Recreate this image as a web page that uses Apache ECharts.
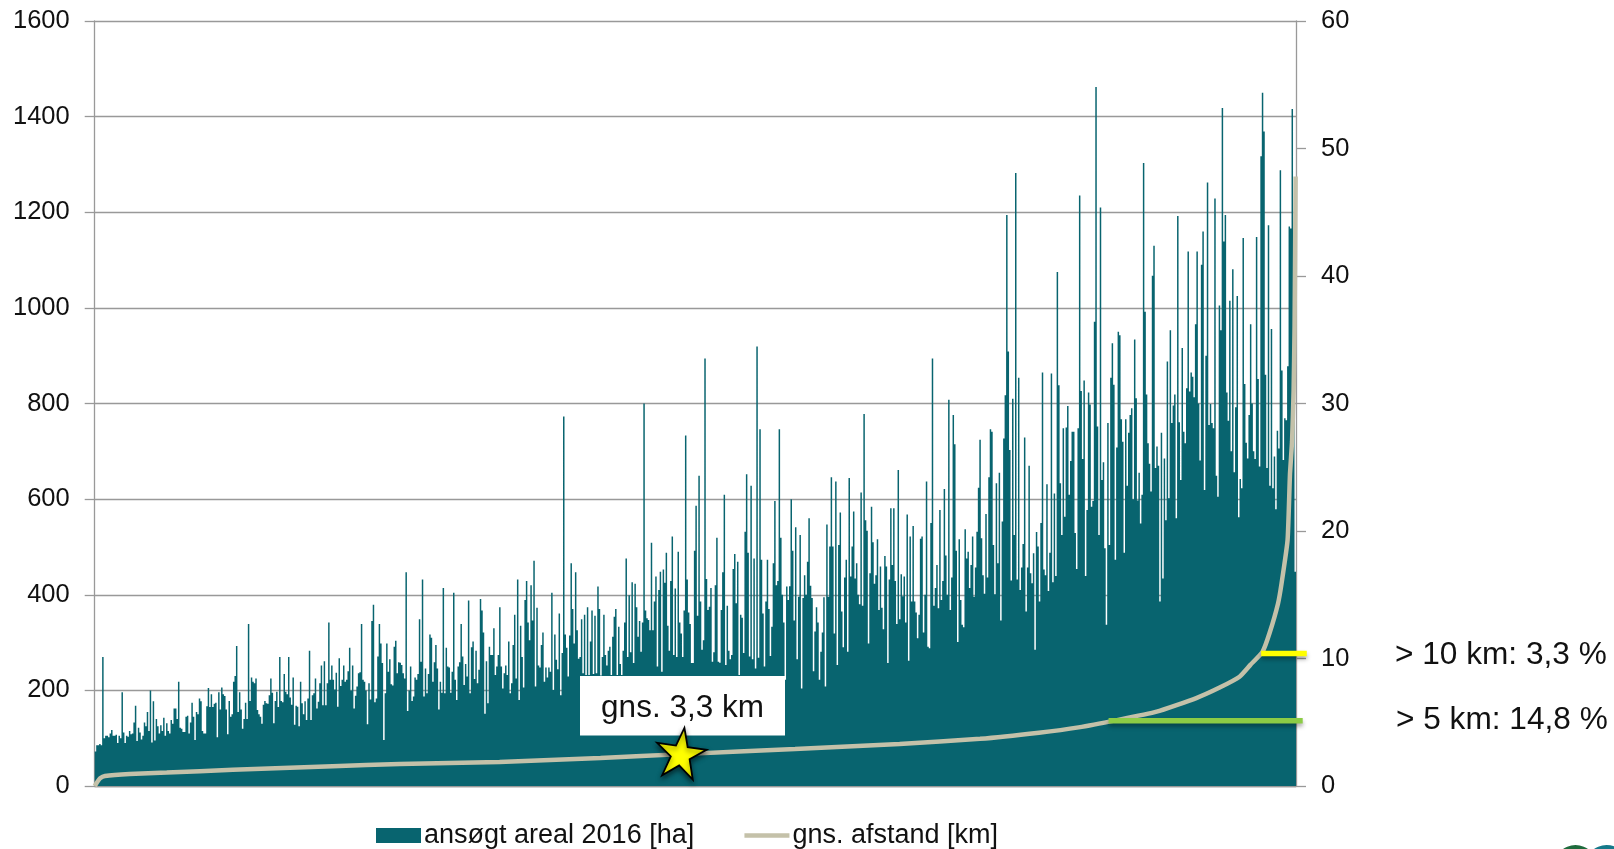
<!DOCTYPE html>
<html><head><meta charset="utf-8">
<style>html,body{margin:0;padding:0;background:#fff}#c{width:1614px;height:849px}</style>
<script src="https://cdn.jsdelivr.net/npm/echarts@6/dist/echarts.min.js"></script>
</head><body><div id="c"></div>
<script>
const leftTicks=[0,200,400,600,800,1000,1200,1400,1600];
const rightTicks=[0,10,20,30,40,50,60];
const seriesAreaName='ansøgt areal 2016 [ha]';
const seriesDistName='gns. afstand [km]';
const areaA=[72,85,85,88,85,270,100,105,105,102,110,117,105,105,107,90,105,100,196,112,90,105,103,115,108,110,133,168,94,122,112,97,105,133,125,155,115,200,91,177,95,140,125,110,127,115,143,105,131,115,110,138,130,162,162,140,218,122,120,113,113,145,147,110,133,174,145,96,155,150,183,177,115,110,110,167,205,165,192,165,172,174,102,196,160,206,192,188,160,108,178,145,150,218,230,293,155,196,160,120,140,174,140,339,178,227,218,215,225,159,150,145,130,170,178,173,172,190,225,195,131,178,197,165,270,178,175,234,197,192,270,185,170];
const areaB=[227,128,168,166,125,218,173,150,177,138,183,283,138,190,194,225,162,176,215,252,169,261,169,215,342,222,252,222,202,237,166,267,209,222,252,218,222,240,289,200,252,162,189,208,236,238,339,222,218,200,129,215,181,345,379,175,183,271,339,298,257,96,194,298,239,265,213,210,291,304,236,259,258,253,236,225,447,157,200,250,178,187,227,222,234,349,260,432,187,246,194,234,317,310,218,259,295,246,160,218,195,414,194,289,250,248,195,239,404,222,180,250,259,339,271,211,255,229,388,194,290,302,224,283,215,243,391,367,321,151,261,173,291,274];
const areaC=[274,330,232,250,274,374,250,204,236,252,232,302,194,215,295,358,225,432,180,335,270,206,389,429,342,305,420,346,471,208,373,252,248,295,321,218,248,227,248,239,404,201,317,264,244,361,190,278,773,317,289,229,315,466,370,298,447,326,266,270,349,236,358,232,374,232,302,367,234,356,236,417,370,231,270,358,274,252,283,291,232,312,354,370,232,333,255,232,283,342,476,270,399,280,426,257,423,374,312,345,281,342,800,367,351,347,326,509,326,386,438,250,410,448,239,453,425,488,335,283,429,522,274,413,270,490,342,319,270,367,733,432,363,339,257];
const areaD=[257,492,586,356,649,386,285,305,894,433,368,375,414,260,280,420,519,260,258,368,447,609,253,377,283,265,274,454,485,382,469,232,358,352,278,532,652,488,271,628,265,476,246,919,268,746,473,361,250,386,473,370,272,333,466,596,420,429,746,519,400,342,222,417,389,418,600,492,346,541,265,396,525,204,393,441,400,469,560,419,393,240,323,374,342,222,281,321,395,208,547,396,501,646,501,319,637,253,504,572,365,290,436,473,281,644,438,501,574,434,466,400,380,614,377,778,556,534,298,445,584,510,423,441,516,368,459,373,328,481,459,257,432,581,462];
const areaE=[581,429,339,661,349,443,397,438,342,568,262,522,386,544,386,363,309,358,517,522,321,400,637,291,288,550,894,377,414,462,372,577,389,429,621,482,400,808,368,436,776,715,492,301,516,389,337,332,537,476,490,414,462,522,396,457,532,624,724,518,441,402,569,436,646,746,741,504,401,633,466,655,346,553,727,817,1194,909,703,430,810,525,1282,432,854,410,457,506,729,365,457,670,445,424,487,285,531,501,386,550,865,453,441,631,408,488,863,426,612,439,1075,838,633,525,748,563,750,795,609,680,741,741,529,454,748,1235,826,684,848,439,577,823,798,584,596,971];
const areaF=[1462,752,525,1210,640,677,497,337,759,504,854,926,839,473,708,950,943,767,720,488,767,628,739,776,790,600,934,811,597,655,549,609,1303,992,819,717,674,616,1067,1130,665,710,670,386,739,434,685,556,888,602,953,759,796,819,560,1192,761,640,916,741,717,832,1118,825,865,856,813,966,1118,800,681,1090,1160,619,900,1262,755,799,759,748,1229,649,605,1005,953,1418,1139,1194,823,764,1015,700,1081,656,792,1025,562,642,623,1146,841,718,685,776,966,800,700,684,1148,851,668,1317,1450,1369,860,665,1173,628,956,623,689,579,743,706,1288,869,682,769,765,878,1170,1166,1416,835,448];
const distancePct=[0,0.2,0.45,0.85,2.9,6,11.5,19.8,25.4,33.7,42.1,48.9,58.3,67,73.7,78.6,81.9,85.1,88.4,91.7,93.6,95.3,96.2,97.2,97.8,98.5,98.8,99.3,99.5,99.67,99.8,99.88,99.97];
const distanceKm=[0,0.3,0.6,0.78,0.94,1.05,1.28,1.55,1.72,1.88,2.2,2.5,2.9,3.3,3.7,4.18,4.6,5.17,5.83,6.9,7.7,8.57,9.5,10.5,12,14.3,15.9,19.3,24.5,27,31,36,47.8];
const over5km=[[84.4,5.12],[100.56,5.12]];
const over10km=[[97.1,10.4],[100.9,10.4]];
const meanStar=[[48.8,2.62]];
const labelMean='gns. 3,3 km';
const labelOver10='> 10 km: 3,3 %';
const labelOver5='> 5 km: 14,8 %';

const area=[].concat(areaA,areaB,areaC,areaD,areaE,areaF);
const cats=area.map((_,i)=>String(i+1));
const font='"Liberation Sans",Arial,sans-serif';
const starPath='path://M50 0L61.8 35.5L100 35.5L69 57.5L80.9 95L50 72L19.1 95L31 57.5L0 35.5L38.2 35.5Z';
const chart=echarts.init(document.getElementById('c'),null,{renderer:'canvas'});
const lab={fontFamily:font,fontSize:25.5,color:'#111',margin:25,formatter:v=>String(v)};
chart.setOption({
 animation:false,backgroundColor:'#fff',
 grid:[{left:94.7,right:318,top:21,bottom:63,containLabel:false},{left:94.7,right:294,top:21,bottom:63,containLabel:false}],
 legend:{left:376,top:822,padding:0,itemWidth:45,itemHeight:15,itemGap:48,
  textStyle:{fontFamily:font,fontSize:27,color:'#111',padding:[0,0,0,-2]},
  data:[{name:seriesAreaName,icon:'rect'},{name:seriesDistName,itemStyle:{color:'transparent',borderColor:'transparent',opacity:0},lineStyle:{color:'#c4c1a9',width:4.5,opacity:1}}]},
 xAxis:[
  {type:'category',data:cats,axisTick:{show:false},axisLabel:{show:false},axisLine:{show:true,lineStyle:{color:'#999',width:1.3}},splitLine:{show:false}},
  {type:'value',min:0,max:100,show:false,splitLine:{show:false}},
  {type:'value',gridIndex:1,min:0,max:102,show:false,splitLine:{show:false}}
 ],
 yAxis:[
  {type:'value',min:0,max:1600,interval:200,position:'left',axisLabel:lab,
   axisLine:{show:true,lineStyle:{color:'#999',width:1.3}},axisTick:{show:true,length:10,lineStyle:{color:'#999',width:1.3}},
   splitLine:{show:true,lineStyle:{color:'#999',width:1.4}}},
  {type:'value',min:0,max:60,interval:10,position:'right',axisLabel:lab,
   axisLine:{show:true,lineStyle:{color:'#999',width:1.3}},axisTick:{show:true,length:10,lineStyle:{color:'#999',width:1.3}},
   splitLine:{show:false}},
  {type:'value',gridIndex:1,min:0,max:60,show:false,splitLine:{show:false}}
 ],
 series:[
  {name:seriesAreaName,type:'bar',data:area,xAxisIndex:0,yAxisIndex:0,barCategoryGap:0,large:true,largeThreshold:100,itemStyle:{color:'#08646f'},silent:true},
  {name:seriesDistName,type:'line',xAxisIndex:1,yAxisIndex:1,showSymbol:false,symbol:'none',clip:false,z:4,smooth:0.15,
   data:distancePct.map((p,i)=>[p,distanceKm[i]]),lineStyle:{color:'#c4c1a9',width:4.5},itemStyle:{color:'#c4c1a9'}},
  {name:'over5',type:'line',xAxisIndex:2,yAxisIndex:2,symbol:'none',z:5,data:over5km,
   lineStyle:{color:'#8ccc45',width:5.5,shadowColor:'rgba(0,0,0,0.35)',shadowBlur:4,shadowOffsetY:3}},
  {name:'over10',type:'line',xAxisIndex:2,yAxisIndex:2,symbol:'none',z:5,data:over10km,
   lineStyle:{color:'#ffff00',width:5.5,shadowColor:'rgba(0,0,0,0.35)',shadowBlur:4,shadowOffsetY:3}},
  {name:'mean',type:'scatter',xAxisIndex:1,yAxisIndex:1,clip:false,z:7,data:meanStar,symbol:starPath,symbolSize:[50,50],symbolRotate:-8,
   itemStyle:{color:'#ffff00',opacity:1,borderColor:'#000',borderWidth:1.8,shadowColor:'rgba(0,0,0,0.5)',shadowBlur:5,shadowOffsetY:3}}
 ],
 graphic:[
  {type:'rect',z:6,shape:{x:580,y:676,width:205,height:59.5},style:{fill:'#fff'}},
  {type:'text',z:7,style:{x:682.5,y:708,text:labelMean,align:'center',verticalAlign:'middle',font:'31.5px '+font,fill:'#111'}},
  {type:'text',z:7,x:1395,y:655,scaleX:1.02,style:{text:labelOver10,verticalAlign:'middle',font:'31px '+font,fill:'#111'}},
  {type:'text',z:7,x:1396,y:720.5,scaleX:1.02,style:{text:labelOver5,verticalAlign:'middle',font:'31px '+font,fill:'#111'}},
  {type:'circle',z:7,shape:{cx:1575.5,cy:866.5,r:21.5},style:{fill:'#1f6b3d'}},
  {type:'circle',z:7,shape:{cx:1606.5,cy:866.5,r:21.5},style:{fill:'#15798a'}}
 ]
});
</script></body></html>
